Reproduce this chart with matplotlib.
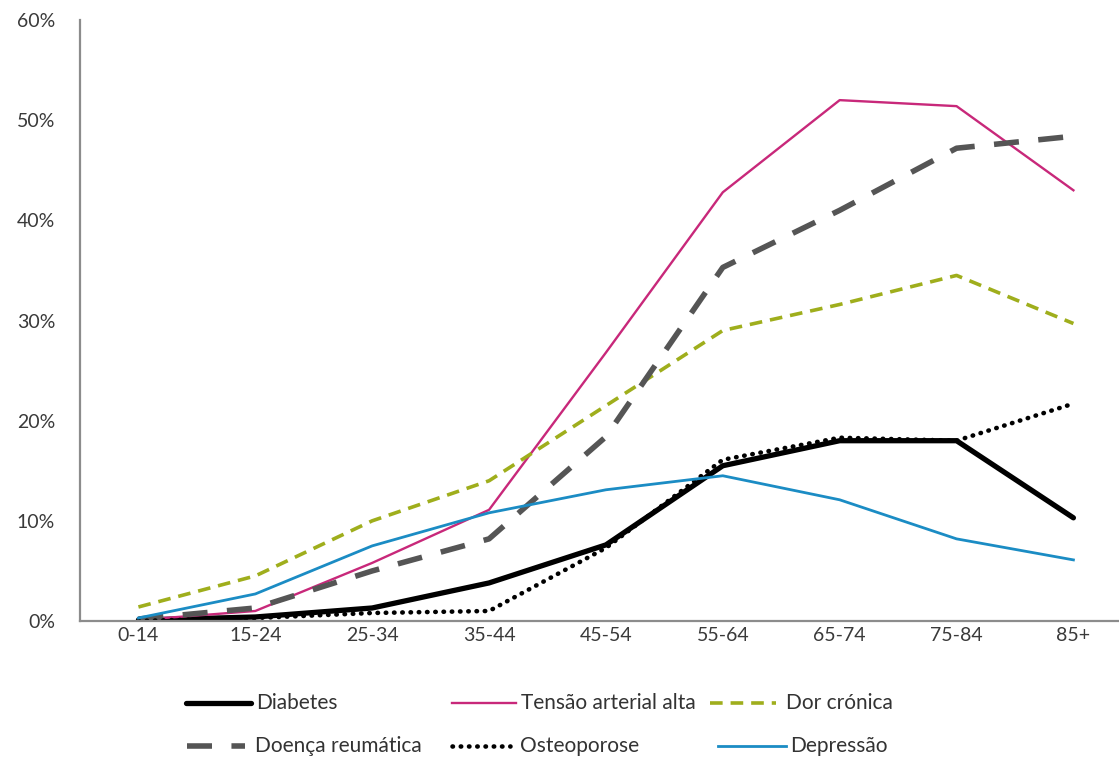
import matplotlib
matplotlib.use("Agg")
import matplotlib.pyplot as plt
from matplotlib.lines import Line2D
from matplotlib.ticker import PercentFormatter

plt.rcParams['font.family'] = ['Lato', 'DejaVu Sans']

# faixas etárias
grupos = ['0-14', '15-24', '25-34', '35-44', '45-54', '55-64', '65-74', '75-84', '85+']

# prevalência (%) por doença
diabetes = [0.1, 0.4, 1.3, 3.8, 7.6, 15.5, 18.0, 18.0, 10.3]
tensao = [0.1, 1.0, 5.8, 11.1, 26.8, 42.8, 52.0, 51.4, 43.0]
dor_cronica = [1.4, 4.5, 10.0, 14.0, 21.5, 29.0, 31.6, 34.5, 29.7]
doenca_reum = [0.2, 1.3, 5.0, 8.2, 18.4, 35.3, 41.0, 47.2, 48.4]
osteoporose = [0.0, 0.3, 0.8, 1.0, 7.3, 16.1, 18.3, 18.0, 21.7]
depressao = [0.3, 2.7, 7.5, 10.8, 13.1, 14.5, 12.1, 8.2, 6.1]

W, H = 1119, 761
fig = plt.figure(figsize=(W / 100, H / 100), dpi=100)
ax = fig.add_axes([80 / W, 1 - 621 / H, 1 - 80 / W, 601 / H])

x = range(len(grupos))
estilos = [
    ('Diabetes', diabetes, dict(color='black', lw=3.8, solid_capstyle='round')),
    ('Tensão arterial alta', tensao, dict(color='#c8287a', lw=1.7)),
    ('Dor crónica', dor_cronica, dict(color='#9fae1c', lw=2.6, dashes=(3.5, 2.2))),
    ('Doença reumática', doenca_reum, dict(color='#555555', lw=4.0, dashes=(4.5, 3.5))),
    ('Osteoporose', osteoporose, dict(color='black', lw=3.3, dashes=(0.1, 1.7),
                                      dash_capstyle='round')),
    ('Depressão', depressao, dict(color='#1b8cc4', lw=2.0)),
]
for nome, vals, kw in estilos:
    ax.plot(x, vals, label=nome, **kw)

ax.set_xlim(-0.5, 8.39)
ax.set_ylim(0, 60)
ax.set_yticks(range(0, 61, 10))
ax.yaxis.set_major_formatter(PercentFormatter(decimals=0))
ax.set_xticks(list(x))
ax.set_xticklabels(grupos)
ax.tick_params(length=0, labelsize=14, labelcolor='#3a3a3a')
ax.tick_params(axis='y', pad=18)
ax.tick_params(axis='x', pad=4)
for s in ['top', 'right']:
    ax.spines[s].set_visible(False)
for s in ['left', 'bottom']:
    ax.spines[s].set_color('#8c8c8c')
    ax.spines[s].set_linewidth(1.6)

# legenda em duas linhas, posicionada à mão
itens = [
    (186, 251, 703, 0, 5), (452, 516, 703, 1, 5), (710, 776, 703, 2, 10),
    (187, 245, 746, 3, 10), (452, 510, 746, 4, 10), (718, 786, 746, 5, 4),
]
for x0, x1, yy, i, gap in itens:
    nome, _, kw = estilos[i]
    fig.add_artist(Line2D([x0 / W, x1 / W], [1 - yy / H] * 2,
                          transform=fig.transFigure, **kw))
    fig.text((x1 + gap) / W, 1 - yy / H, nome, fontsize=15, color='#333333',
             va='center', ha='left')

fig.savefig('out.png', dpi=100)
